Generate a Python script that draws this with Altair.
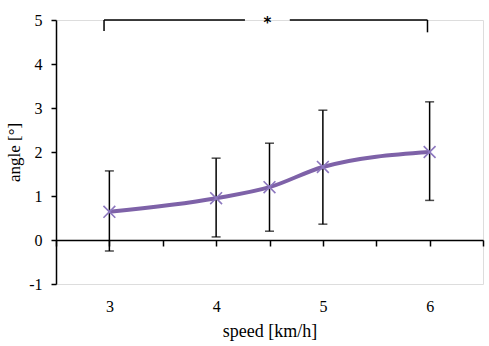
import altair as alt
import pandas as pd

speed = [3, 4, 4.5, 5, 6]
angle = [0.64, 0.95, 1.2, 1.66, 2.0]
err_low = [-0.25, 0.07, 0.2, 0.36, 0.9]
err_high = [1.57, 1.86, 2.2, 2.95, 3.14]

x_ticks = [2.5, 3, 3.5, 4, 4.5, 5, 5.5, 6, 6.5]
y_ticks = [-1, 0, 1, 2, 3, 4, 5]

# significance bracket
br_x = [2.95, 4.27, 4.69, 5.98]
br_top = 5.0
br_left_bottom = 4.75
br_right_bottom = 4.72
star_x = 4.48
star_label = "*"

df = pd.DataFrame({"speed": speed, "angle": angle, "lo": err_low, "hi": err_high})

FONT = "Liberation Serif"
xs = alt.Scale(domain=[2.5, 6.5], nice=False, zero=False)
ys = alt.Scale(domain=[-1, 5], nice=False, zero=False)

xaxis = alt.Axis(
    values=x_ticks, labelExpr="datum.value % 1 == 0 ? format(datum.value, 'd') : ''",
    offset=-44, grid=False, domainColor="black", tickColor="black",
    domainWidth=1.5, tickWidth=1.5, tickSize=6, labelPadding=52,
    labelFont=FONT, labelFontSize=16, labelColor="black",
    title="speed [km/h]", titleFont=FONT, titleFontSize=18,
    titleFontWeight="normal", titleColor="black", titlePadding=8,
)
yaxis = alt.Axis(
    values=y_ticks, labelExpr="'' + datum.value", grid=False,
    domainColor="black", tickColor="black",
    domainWidth=1.5, tickWidth=1.5, tickSize=5, labelPadding=9,
    labelFont=FONT, labelFontSize=16, labelColor="black",
    title="angle [°]", titleFont=FONT, titleFontSize=17,
    titleFontWeight="normal", titleColor="black", titleX=-42,
    titleBaseline="middle",
)

base = alt.Chart(df)

rules = base.mark_rule(color="black", strokeWidth=1.5).encode(
    x=alt.X("speed:Q", scale=xs, axis=xaxis),
    y=alt.Y("lo:Q", scale=ys, axis=yaxis),
    y2="hi:Q",
)
cap_lo = base.mark_tick(color="black", orient="horizontal", size=9, thickness=1.5).encode(
    x="speed:Q", y="lo:Q")
cap_hi = base.mark_tick(color="black", orient="horizontal", size=9, thickness=1.5).encode(
    x="speed:Q", y="hi:Q")

line = base.mark_line(color="#7E62A8", strokeWidth=4, interpolate="monotone").encode(
    x="speed:Q", y="angle:Q")
pts = base.mark_point(shape="M-1,-1L1,1M1,-1L-1,1", color="#8C77BE", filled=False,
                      strokeWidth=1.6, size=140, opacity=1).encode(x="speed:Q", y="angle:Q")

br_df = pd.DataFrame({
    "x": [br_x[0], br_x[2]], "x2": [br_x[1], br_x[3]],
    "y": [br_top, br_top],
})
br_h = alt.Chart(br_df).mark_rule(color="black", strokeWidth=1.5).encode(
    x="x:Q", x2="x2:Q", y="y:Q")
bv_df = pd.DataFrame({
    "x": [br_x[0], br_x[3]], "y": [br_top, br_top],
    "y2": [br_left_bottom, br_right_bottom],
})
br_v = alt.Chart(bv_df).mark_rule(color="black", strokeWidth=1.5).encode(
    x="x:Q", y="y:Q", y2="y2:Q")
star_df = pd.DataFrame({"x": [star_x], "y": [br_top], "t": [star_label]})
star = alt.Chart(star_df).mark_text(font="DejaVu Sans", fontSize=15, fontWeight="bold",
                                    color="black", baseline="middle", dy=3).encode(
    x="x:Q", y="y:Q", text="t:N")

chart = alt.layer(rules, cap_lo, cap_hi, line, pts, br_h, br_v, star).properties(
    width=427, height=264,
    padding={"left": 56, "top": 20, "right": 6, "bottom": 62},
    autosize=alt.AutoSizeParams(type="none"),
).configure_view(stroke=None).configure(background="white")

chart.save("out.html", embed_options={"renderer": "svg", "actions": False})
